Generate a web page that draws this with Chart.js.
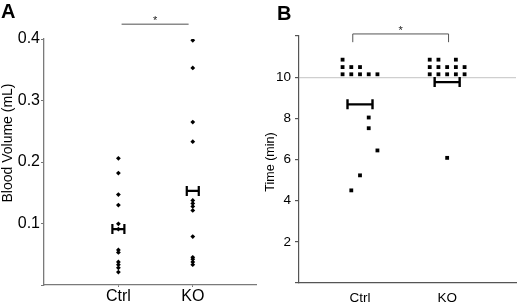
<!DOCTYPE html>
<html><head><meta charset="utf-8">
<script src="https://cdn.jsdelivr.net/npm/chart.js@4/dist/chart.umd.min.js"></script>
<style>
html,body{margin:0;padding:0;background:#fff;}
#wrap{position:relative;width:520px;height:305px;overflow:hidden;background:#fff;}
canvas{position:absolute;top:0;}
#cA{left:0}
#cB{left:260px}
.pl{position:absolute;font-family:'Liberation Sans',Arial,sans-serif;font-weight:bold;color:#000;line-height:1;}
</style></head><body>
<div id="wrap">
<canvas id="cA" width="260" height="305"></canvas>
<canvas id="cB" width="260" height="305"></canvas>
<div class="pl" style="left:1px;top:1px;font-size:20px">A</div>
<div class="pl" style="left:277px;top:3px;font-size:20px">B</div>
</div>
<script>
// ---------- data ----------
const groups = ['Ctrl', 'KO'];

// Panel A: Blood Volume (mL)
const volCtrl = [0.206, 0.182, 0.147, 0.130, 0.0995, 0.091, 0.057, 0.053, 0.0375, 0.033, 0.028, 0.021];
const volKO   = [0.398, 0.353, 0.265, 0.233, 0.1375, 0.1326, 0.1277, 0.1212, 0.0788, 0.045, 0.042, 0.0375, 0.033];
const volMean = [0.091, 0.153];
const volSigX = [1.043, 1.944];
const volSigY = 0.424;

// Panel B: Time (min) — dot-plot column offsets within each group
const timeCtrl    = [10.85, 10.49, 10.14, 10.49, 10.14, 10.49, 10.14, 10.14, 10.14, 4.50, 5.23, 8.04, 7.52, 6.44];
const timeCtrlCol = [-0.2, -0.2, -0.2, -0.1, -0.1, 0, 0, 0.1, 0.2, -0.1, 0, 0.1, 0.1, 0.2];
const timeKO      = [10.85, 10.49, 10.14, 10.85, 10.49, 10.14, 10.49, 10.14, 10.85, 10.49, 10.14, 10.49, 10.14, 6.08];
const timeKOCol   = [-0.2, -0.2, -0.2, -0.1, -0.1, -0.1, 0, 0, 0.1, 0.1, 0.1, 0.2, 0.2, 0];
const timeMean = [8.68, 9.76];
const timeRef = 10;
const timeSigX = [0.917, 2.016];
const timeSigY = [12.1, 11.7];

// ---------- drawing ----------
Chart.defaults.font.family = "'Liberation Sans', Arial, Helvetica, sans-serif";
Chart.defaults.color = '#000';

function overlay(o) {
  return {
    id: 'overlay',
    afterDatasetsDraw(chart) {
      const {ctx, scales: {x, y}} = chart;
      ctx.save();
      // mean markers
      ctx.strokeStyle = '#000';
      ctx.lineWidth = o.hLW;
      o.means.forEach((m, i) => {
        const cx = x.getPixelForValue(i + 1), cy = y.getPixelForValue(m);
        ctx.beginPath();
        ctx.moveTo(cx - o.hw, cy); ctx.lineTo(cx + o.hw, cy);
        ctx.moveTo(cx - o.hw, cy - o.hh); ctx.lineTo(cx - o.hw, cy + o.hh);
        ctx.moveTo(cx + o.hw, cy - o.hh); ctx.lineTo(cx + o.hw, cy + o.hh);
        ctx.stroke();
      });
      // significance bracket
      const x1 = x.getPixelForValue(o.sigX[0]), x2 = x.getPixelForValue(o.sigX[1]);
      const yt = y.getPixelForValue(o.sigY[0]);
      ctx.strokeStyle = o.sigColor;
      ctx.lineWidth = o.sigLW;
      ctx.beginPath();
      if (o.sigY.length > 1) {
        const yb = y.getPixelForValue(o.sigY[1]);
        ctx.moveTo(x1, yb); ctx.lineTo(x1, yt); ctx.lineTo(x2, yt); ctx.lineTo(x2, yb);
      } else {
        ctx.moveTo(x1, yt); ctx.lineTo(x2, yt);
      }
      ctx.stroke();
      ctx.fillStyle = '#222';
      ctx.font = o.starFont;
      ctx.textAlign = 'center';
      ctx.textBaseline = 'alphabetic';
      ctx.fillText('*', (x1 + x2) / 2, yt + o.starDy);
      // y-axis title
      ctx.fillStyle = '#000';
      ctx.font = o.titleFont;
      ctx.translate(o.titleX, o.titlePos);
      ctx.rotate(-Math.PI / 2);
      ctx.textBaseline = 'middle';
      ctx.fillText(o.title, 0, 0);
      ctx.restore();
    }
  };
}

const common = {
  responsive: false, animation: false, devicePixelRatio: 1,
  plugins: {legend: {display: false}, tooltip: {enabled: false}},
  events: []
};

new Chart(document.getElementById('cA'), {
  type: 'scatter',
  data: {datasets: [
    {data: volCtrl.map(v => ({x: 1, y: v}))},
    {data: volKO.map(v => ({x: 2, y: v}))}
  ]},
  options: Object.assign({}, common, {
    layout: {padding: {top: 39, right: 2, left: 0, bottom: 0}},
    elements: {point: {pointStyle: 'rectRot', radius: 2.4, backgroundColor: '#000', borderWidth: 0}},
    scales: {
      x: {type: 'linear', min: 0, max: 2.85,
        afterFit: s => { s.height = 20; },
        afterBuildTicks: s => { s.ticks = groups.map((g, i) => ({value: i + 1})); },
        ticks: {callback: v => groups[v - 1], font: {size: 16}, padding: 0, maxRotation: 0},
        grid: {drawOnChartArea: false, tickLength: 2, tickColor: '#777'},
        border: {color: '#7a7a7a', width: 1.3}},
      y: {min: 0, max: 0.4,
        afterFit: s => { s.width = 44; },
        ticks: {stepSize: 0.1, callback: v => v === 0 ? '' : v.toFixed(1), font: {size: 16}, padding: 1},
        grid: {drawOnChartArea: false, tickLength: 3, tickColor: '#777'},
        border: {color: '#7a7a7a', width: 1.3}}
    }
  }),
  plugins: [overlay({means: volMean, hw: 6, hh: 5, hLW: 2.2, sigX: volSigX, sigY: [volSigY],
    sigColor: '#8a8a8a', sigLW: 1.5, starFont: '11px Liberation Sans', starDy: 0,
    title: 'Blood Volume (mL)', titleFont: '14px Liberation Sans', titleX: 8.5, titlePos: 143})]
});

new Chart(document.getElementById('cB'), {
  type: 'scatter',
  data: {datasets: [
    {data: timeCtrl.map((v, i) => ({x: 1 + timeCtrlCol[i], y: v}))},
    {data: timeKO.map((v, i) => ({x: 2 + timeKOCol[i], y: v}))}
  ]},
  options: Object.assign({}, common, {
    layout: {padding: {top: 36, right: 2, left: 0, bottom: 0}},
    elements: {point: {pointStyle: 'rect', radius: 2.7, backgroundColor: '#000', borderWidth: 0}},
    scales: {
      x: {type: 'linear', min: 0.3, max: 2.79,
        afterFit: s => { s.height = 22; },
        afterBuildTicks: s => { s.ticks = groups.map((g, i) => ({value: i + 1})); },
        ticks: {callback: v => groups[v - 1], font: {size: 13.5}, padding: 7, maxRotation: 0},
        grid: {drawOnChartArea: false, drawTicks: false},
        border: {color: '#555', width: 1.2}},
      y: {min: 0, max: 12,
        afterFit: s => { s.width = 39; },
        ticks: {stepSize: 2, callback: v => (v === 0 || v === 12) ? '' : String(v), font: {size: 13.5}, padding: 4},
        grid: {color: c => c.tick && c.tick.value === timeRef ? '#cfcfcf' : 'rgba(0,0,0,0)', lineWidth: 1.2,
               tickLength: 4, tickColor: '#555'},
        border: {color: '#555', width: 1.2}}
    }
  }),
  plugins: [overlay({means: timeMean, hw: 12.5, hh: 5, hLW: 2.4, sigX: timeSigX, sigY: timeSigY,
    sigColor: '#555', sigLW: 1, starFont: '11px Liberation Sans', starDy: 0,
    title: 'Time (min)', titleFont: '12.5px Liberation Sans', titleX: 11, titlePos: 162})]
});
</script>
</body></html>
